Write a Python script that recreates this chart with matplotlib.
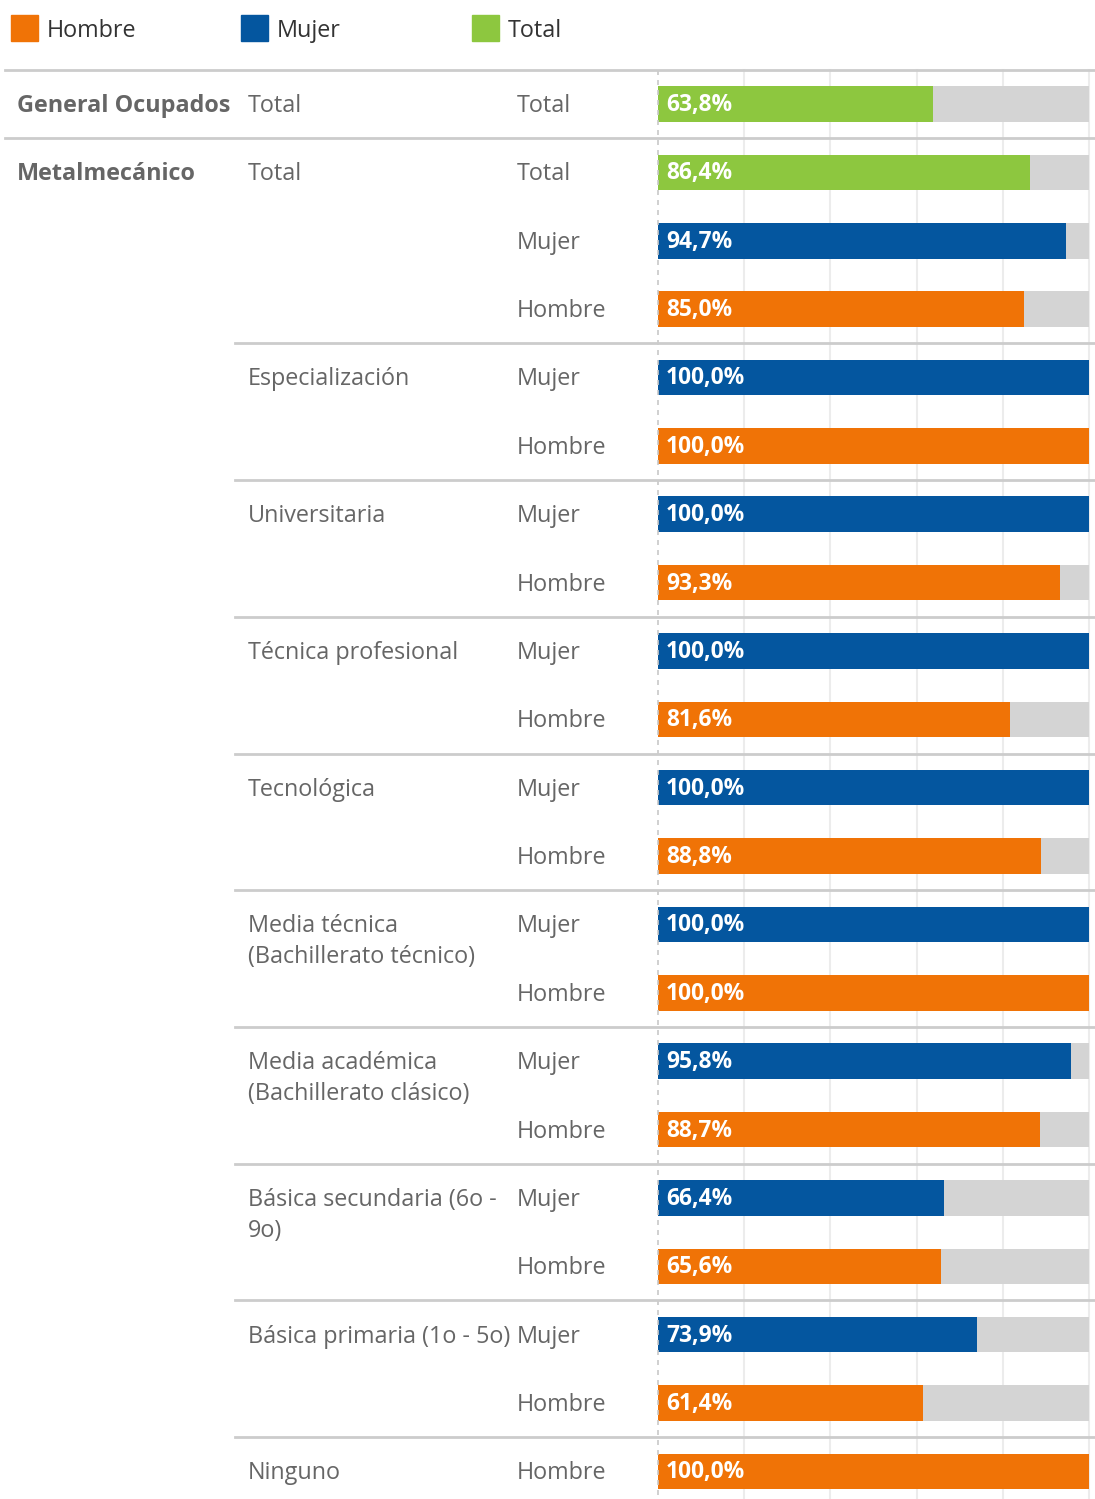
import numpy as np
import matplotlib
matplotlib.use("Agg")
import matplotlib.pyplot as plt
import matplotlib.transforms as mtransforms
from matplotlib.patches import Rectangle

plt.rcParams['font.family'] = ['Open Sans', 'DejaVu Sans']

# data, one entry per bar row (top to bottom)
sector = ["General Ocupados", "Metalmecánico"]
education = ["Total", "Total", "", "", "Especialización", "", "Universitaria", "",
             "Técnica profesional", "", "Tecnológica", "",
             "Media técnica\n(Bachillerato técnico)", "",
             "Media académica\n(Bachillerato clásico)", "",
             "Básica secundaria (6o -\n9o)", "", "Básica primaria (1o - 5o)", "",
             "Ninguno"]
gender = ["Total", "Total", "Mujer", "Hombre", "Mujer", "Hombre", "Mujer", "Hombre",
          "Mujer", "Hombre", "Mujer", "Hombre", "Mujer", "Hombre", "Mujer", "Hombre",
          "Mujer", "Hombre", "Mujer", "Hombre", "Hombre"]
values = [63.8, 86.4, 94.7, 85.0, 100.0, 100.0, 100.0, 93.3, 100.0, 81.6, 100.0, 88.8,
          100.0, 100.0, 95.8, 88.7, 66.4, 65.6, 73.9, 61.4, 100.0]
# rows after which a group separator is drawn
group_ends = [0, 3, 5, 7, 9, 11, 13, 15, 17, 19]

colors = {"Hombre": "#F07306", "Mujer": "#04569F", "Total": "#8DC73F"}
label_color = "#666666"
fs = 16.8

W, H = 1095, 1499
fig = plt.figure(figsize=(W / 100, H / 100), dpi=100)
ax = fig.add_axes([0, 0, 1, 1])

# bar axis: 0% at px 658, 100% at px 1089
px_per_unit = (1089 - 658) / 100
ax.set_xlim(-658 / px_per_unit, (W - 658) / px_per_unit)
row_h = 68.37
ax.set_ylim((H - 104) / row_h, -104 / row_h)
ax.axis("off")

rows = np.arange(len(values))
n = len(values)

# grid lines + dashed zero line
for g in [20, 40, 60, 80, 100]:
    ax.plot([g, g], [-0.5, n], color="#ececec", lw=1.5, zorder=0)
ax.plot([0, 0], [-0.5, n], color="#c8c8c8", lw=1.2, ls=(0, (3, 3)), zorder=3)

# gray background and coloured bars
ax.barh(rows, [100] * n, height=0.52, color="#d4d4d4", zorder=1)
ax.barh(rows, values, height=0.52, color=[colors[g] for g in gender], zorder=2)

for r, v in zip(rows, values):
    ax.annotate(f"{v:.1f}%".replace(".", ","), (0, r), xytext=(8, -1),
                textcoords="offset pixels", ha="left", va="center",
                color="white", fontsize=16.4, fontweight="bold", zorder=4)

# separators
trans = mtransforms.blended_transform_factory(ax.transAxes, ax.transData)
ax.plot([5 / W, 1], [-0.5, -0.5], transform=trans, color="#cccccc", lw=2, zorder=3)
for i, e in enumerate(group_ends):
    x0 = 5 / W if i == 0 else 235 / W
    ax.plot([x0, 1], [e + 0.5, e + 0.5], transform=trans, color="#cccccc", lw=2, zorder=3)


def row_text(x, r, s, **kw):
    # one text per line so the first line sits on the row centre
    for k, line in enumerate(s.split("\n")):
        ax.annotate(line, (x / W, r), xycoords=trans, xytext=(0, -8 - 31 * k),
                    textcoords="offset pixels", ha="left", va="baseline",
                    fontsize=fs, color=label_color, **kw)


# row labels
for r in range(len(sector)):
    row_text(17, r, sector[r], fontweight="bold")
for r in rows:
    if education[r]:
        row_text(248, r, education[r])
    row_text(517, r, gender[r])

# legend
for lx, name in zip([11, 241, 472], ["Hombre", "Mujer", "Total"]):
    fig.patches.append(Rectangle((lx / W, 1 - 41 / H), 27 / W, 26 / H,
                                 transform=fig.transFigure, color=colors[name]))
    fig.text((lx + 36) / W, 1 - 37 / H, name, ha="left", va="baseline",
             fontsize=fs, color="#333333")

fig.savefig("out.png", dpi=100)
